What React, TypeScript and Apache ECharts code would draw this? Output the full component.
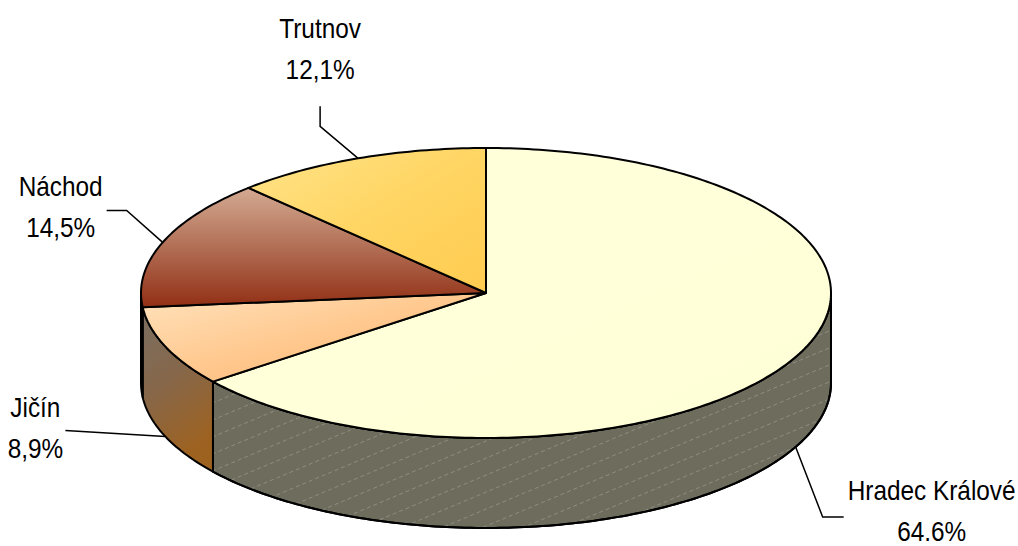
import React, { useEffect, useRef } from "react";
import * as echarts from "echarts";

// ---- data ----
const categories = ["Hradec Králové", "Jičín", "Náchod", "Trutnov"];
const shares = [64.6, 8.9, 14.5, 12.1];
const shareLabels = ["64.6%", "8,9%", "14,5%", "12,1%"];

// ---- layout / style ----
const CX = 486;
const CY = 293;
const RX = 345;
const RY = 145;
const DEPTH = 90;

// leader elbow/end and text centre, relative to the anchor on the pie edge
const labelLayout = [
  { path: [[27, 70], [48, 70]], text: [136, 64] },
  { path: [[-100, -6]], text: [-130, -8.5] },
  { path: [[-36, -32], [-56, -32]], text: [-102, -35.5] },
  { path: [[-38, -32], [-38, -52]], text: [-38, -109.5] },
];

const G = (x0: number, y0: number, x1: number, y1: number, c: string[]) =>
  new echarts.graphic.LinearGradient(
    x0, y0, x1, y1,
    c.map((color, k) => ({ offset: k / (c.length - 1), color }))
  );

const topFills = [
  () => G(0, 0, 1, 1, ["#FFFFDC", "#FFFFD6"]),
  () => G(0, 0, 1, 1, ["#FFE2BC", "#FFC88E", "#FFB36E"]),
  () => G(0, 0, 0, 1, ["#D4AA92", "#B16E55", "#922F14"]),
  () => G(0, 0, 1, 1, ["#FFE48A", "#FFD563", "#FFCC50"]),
];
const wallFills = [
  () => "#6E6D5D",
  () => G(0, 0, 0.3, 1, ["#7A6F62", "#86674A", "#9E6220"]),
  () => "#7A3018",
  () => "#B8963A",
];

const total = shares.reduce((a, b) => a + b, 0);
const starts: number[] = [];
shares.reduce((acc, v, i) => {
  starts[i] = acc;
  return acc + v;
}, 0);

const rad = (d: number) => (d * Math.PI) / 180;
const pt = (deg: number, dy = 0): number[] => [
  CX + RX * Math.sin(rad(deg)),
  CY - RY * Math.cos(rad(deg)) + dy,
];
const arc = (a: number, b: number, dy = 0): number[][] => {
  const out: number[][] = [];
  const n = Math.max(2, Math.ceil(Math.abs(b - a) / 1));
  for (let k = 0; k <= n; k++) out.push(pt(a + ((b - a) * k) / n, dy));
  return out;
};

export default function App() {
  const ref = useRef<HTMLDivElement>(null);
  useEffect(() => {
    if (!ref.current) return;
    const chart = echarts.init(ref.current, undefined, { renderer: "svg" });
    const renderItem = (params: any, api: any) => {
      const i = params.dataIndex;
      const v = api.value(0);
      const s = api.value(1);
      const t0 = (s / total) * 360;
      const t1 = ((s + v) / total) * 360;
      const children: any[] = [];

      // side wall (front half only)
      const a = Math.max(t0, 90);
      const b = Math.min(t1, 270);
      if (a < b) {
        const wall = [...arc(a, b), ...arc(b, a, DEPTH)];
        children.push({
          type: "polygon",
          shape: { points: wall },
          style: { fill: wallFills[i](), stroke: "#000", lineWidth: 2, lineJoin: "round" },
        });
        if (i === 0) {
          const lines: any[] = [];
          for (let y0 = CY - 200; y0 < CY + 700; y0 += 17) {
            lines.push({
              type: "line",
              shape: { x1: CX - RX, y1: y0, x2: CX + RX, y2: y0 - RX * 2 * 0.42 },
              style: { stroke: "rgba(255,255,255,0.22)", lineWidth: 1, lineDash: [4, 3] },
            });
          }
          children.push({
            type: "group",
            children: lines,
            clipPath: { type: "polygon", shape: { points: wall } },
          });
          children.push({
            type: "polygon",
            shape: { points: wall },
            style: { fill: "none", stroke: "#000", lineWidth: 2, lineJoin: "round" },
          });
        }
      }

      // top face
      children.push({
        type: "polygon",
        shape: { points: [[CX, CY], ...arc(t0, t1)] },
        style: { fill: topFills[i](), stroke: "#000", lineWidth: 2, lineJoin: "round" },
      });

      // label
      const m = (t0 + t1) / 2;
      const anchor = pt(m, Math.cos(rad(m)) < 0 ? DEPTH : 0);
      const L = labelLayout[i];
      children.push({
        type: "polyline",
        shape: {
          points: [anchor, ...L.path.map((p) => [anchor[0] + p[0], anchor[1] + p[1]])],
        },
        style: { stroke: "#000", lineWidth: 1.5, fill: "none" },
      });
      children.push({
        type: "text",
        x: anchor[0] + L.text[0],
        y: anchor[1] + L.text[1],
        scaleX: 0.87,
        style: {
          text: categories[i] + "\n" + shareLabels[i],
          fontSize: 28,
          fontFamily: "Liberation Sans, Arial, sans-serif",
          fill: "#000",
          align: "center",
          verticalAlign: "middle",
          lineHeight: 41,
        },
      });
      return { type: "group", children };
    };

    chart.setOption({
      animation: false,
      backgroundColor: "#fff",
      series: [
        {
          type: "custom",
          coordinateSystem: "none",
          renderItem,
          data: shares.map((v, i) => [v, starts[i]]),
        },
      ],
    });
    return () => chart.dispose();
  }, []);
  return (
    <div
      ref={ref}
      style={{ position: "fixed", left: 0, top: 0, width: 1018, height: 546 }}
    />
  );
}
